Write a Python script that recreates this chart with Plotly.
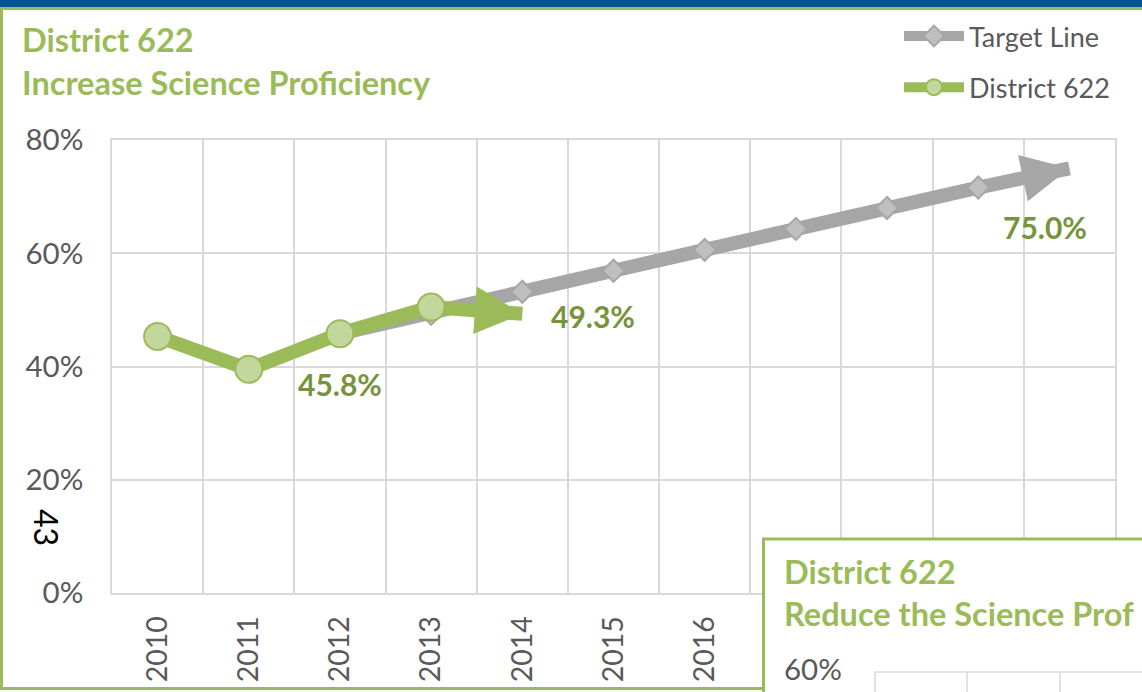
import plotly.graph_objects as go

# ---------------- data ----------------
years = [2010, 2011, 2012, 2013, 2014, 2015, 2016, 2017, 2018, 2019, 2020]
x_tick_labels = [str(y) for y in years]
y_ticks = [0, 20, 40, 60, 80]
y_tick_labels = [f"{v}%" for v in y_ticks]

district_years = [2010, 2011, 2012, 2013, 2014]
district_vals = [45.3, 39.5, 45.8, 50.5, 49.3]

target_years = [2012, 2013, 2014, 2015, 2016, 2017, 2018, 2019, 2020]
target_vals = [45.8, 49.3, 53.2, 56.9, 60.6, 64.3, 68.0, 71.6, 75.0]

# ---------------- style ----------------
W, H = 1142, 692
L, R, T, B = 112, 27, 140, 99
PW = W - L - R
PH = H - T - B

GREEN = "#9BBB59"
GREEN_FILL = "#C3D69B"
GREEN_DARK = "#77933C"
GRAY = "#A6A6A6"
GRAY_FILL = "#BFBFBF"
GRID = "#D9D9D9"
TXT = "#595959"
FONT = "Lato"


def px_x(px):
    return (px - L) / PW


def px_y(py):
    return (H - B - py) / PH


fig = go.Figure()

series = [
    ("Target Line", target_years, target_vals, GRAY, GRAY_FILL, "diamond", 17),
    ("District 622", district_years, district_vals, GREEN, GREEN_FILL, "circle", 27),
]

for i, (name, xs, ys, col, fill, sym, size) in enumerate(series):
    # final (arrow) segment, drawn underneath the markers
    fig.add_trace(go.Scatter(
        x=xs[-2:], y=ys[-2:], mode="lines", showlegend=False, hoverinfo="skip",
        line=dict(color=col, width=14, backoff=25), legendgroup=f"g{i}",
    ))
    # main polyline with markers
    fig.add_trace(go.Scatter(
        x=xs[:-1], y=ys[:-1], name=name, mode="lines+markers", legendgroup=f"g{i}",
        line=dict(color=col, width=14),
        marker=dict(symbol=sym, size=size, color=fill, line=dict(color=col, width=2)),
    ))

annotations = []

# arrowheads at the end of each series
for name, xs, ys, col, fill, sym, size in series:
    annotations.append(dict(
        x=xs[-1], y=ys[-1], ax=xs[-2], ay=ys[-2],
        xref="x", yref="y", axref="x", ayref="y",
        text="", showarrow=True, arrowhead=2, arrowsize=0.95, arrowwidth=10,
        arrowcolor=col, startstandoff=55,
    ))

LABEL_FONT = dict(family=FONT, size=30, color=GREEN_DARK, weight="bold")
# data labels
annotations.append(dict(x=district_years[2], y=district_vals[2], xref="x", yref="y",
                        text=f"{district_vals[2]:.1f}%", showarrow=False, yshift=-50,
                        xanchor="center", yanchor="middle", font=LABEL_FONT))
annotations.append(dict(x=district_years[-1], y=district_vals[-1], xref="x", yref="y",
                        text=f"{district_vals[-1]:.1f}%", showarrow=False, xanchor="left",
                        yanchor="middle", xshift=27, yshift=-2, font=LABEL_FONT))
annotations.append(dict(x=target_years[-1], y=target_vals[-1], xref="x", yref="y",
                        text=f"{target_vals[-1]:.1f}%", showarrow=False,
                        xanchor="center", yanchor="middle",
                        xshift=-24, yshift=-59, font=LABEL_FONT))

TITLE_FONT = dict(family=FONT, size=32.5, color=GREEN, weight="bold")
# titles
annotations.append(dict(x=px_x(20), y=px_y(40), xref="paper", yref="paper",
                        text="District 622", showarrow=False, xanchor="left", yanchor="middle",
                        font=TITLE_FONT))
annotations.append(dict(x=px_x(20), y=px_y(82), xref="paper", yref="paper",
                        text="Increase Science Proficiency", showarrow=False, xanchor="left",
                        yanchor="middle", font=TITLE_FONT))

# page number
annotations.append(dict(x=px_x(47), y=px_y(527), xref="paper", yref="paper",
                        text="43", showarrow=False, textangle=90,
                        xanchor="center", yanchor="middle",
                        font=dict(family=FONT, size=32, color="#000000")))

# inset chart texts
annotations.append(dict(x=px_x(782), y=px_y(571), xref="paper", yref="paper",
                        text="District 622", showarrow=False, xanchor="left", yanchor="middle",
                        font=TITLE_FONT))
annotations.append(dict(x=px_x(782), y=px_y(613), xref="paper", yref="paper",
                        text="Reduce the Science Prof", showarrow=False, xanchor="left",
                        yanchor="middle", font=TITLE_FONT))
annotations.append(dict(x=px_x(844), y=px_y(668), xref="paper", yref="paper",
                        text="60%", showarrow=False, xanchor="right", yanchor="middle",
                        font=dict(family=FONT, size=29.5, color=TXT)))

shapes = [
    # top blue band
    dict(type="rect", xref="paper", yref="paper", x0=px_x(-5), x1=px_x(W + 5),
         y0=px_y(-5), y1=px_y(7), fillcolor="#00558F", line=dict(width=0), layer="above"),
    # main frame
    dict(type="rect", xref="paper", yref="paper", x0=px_x(1.5), x1=px_x(W + 20),
         y0=px_y(8.5), y1=px_y(688.5), fillcolor="rgba(0,0,0,0)",
         line=dict(color=GREEN, width=3), layer="above"),
    # inset frame
    dict(type="rect", xref="paper", yref="paper", x0=px_x(763.5), x1=px_x(W + 20),
         y0=px_y(539), y1=px_y(H + 20), fillcolor="white",
         line=dict(color=GREEN, width=3), layer="above"),
    # inset gridlines
    dict(type="line", xref="paper", yref="paper", x0=px_x(875), x1=px_x(W + 5),
         y0=px_y(672), y1=px_y(672), line=dict(color=GRID, width=1.5), layer="above"),
]
for gx in [875, 967, 1060]:
    shapes.append(dict(type="line", xref="paper", yref="paper", x0=px_x(gx), x1=px_x(gx),
                       y0=px_y(672), y1=px_y(H + 5), line=dict(color=GRID, width=1.5),
                       layer="above"))

fig.update_layout(
    width=W, height=H,
    margin=dict(l=L, r=R, t=T, b=B, pad=0, autoexpand=False),
    paper_bgcolor="white", plot_bgcolor="white",
    font=dict(family=FONT, color=TXT),
    showlegend=True,
    legend=dict(x=px_x(899), y=px_y(12), xanchor="left", yanchor="top",
                font=dict(family=FONT, size=27, color=TXT),
                itemwidth=60, tracegroupgap=13, bgcolor="rgba(0,0,0,0)"),
    annotations=annotations,
    shapes=shapes,
    xaxis=dict(range=[2009.5, 2020.5], tickmode="array", tickvals=years,
               ticktext=x_tick_labels, tickangle=-90, ticks="", showgrid=False,
               zeroline=False, showline=True, mirror=True, linecolor=GRID, linewidth=1.5,
               ticklabelstandoff=10, automargin=False,
               tickfont=dict(family=FONT, size=28.5, color=TXT),
               minor=dict(tickmode="array", tickvals=[y - 0.5 for y in years] + [years[-1] + 0.5],
                          showgrid=True, gridcolor=GRID, gridwidth=1.5, ticks="")),
    yaxis=dict(range=[0, 80], tickmode="array", tickvals=y_ticks, ticktext=y_tick_labels,
               ticks="", showgrid=True, gridcolor=GRID, gridwidth=1.5, zeroline=False,
               showline=True, mirror=True, linecolor=GRID, linewidth=1.5,
               ticklabelstandoff=21, automargin=False,
               tickfont=dict(family=FONT, size=29.5, color=TXT)),
)

fig.write_html("out.html", config={"displayModeBar": False},
               post_script="document.body.style.margin='0';")
